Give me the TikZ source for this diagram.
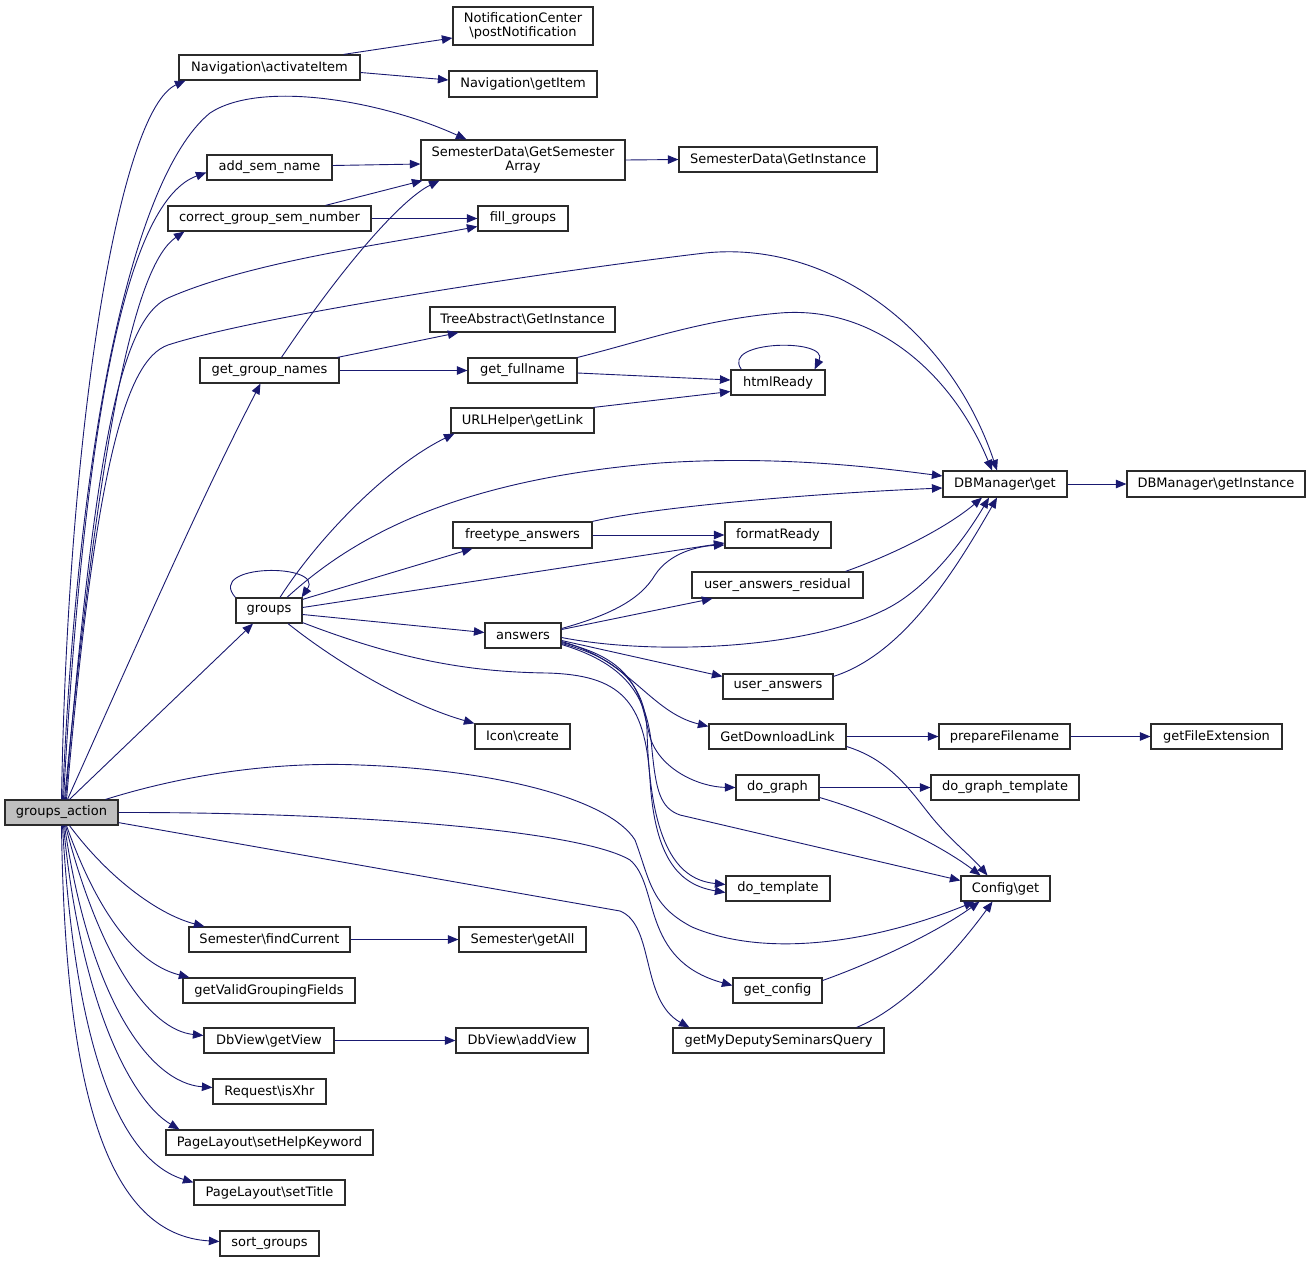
\documentclass[tikz,border=0pt]{standalone}
\usepackage{fontspec}
\setmainfont{DejaVu Sans}
\usetikzlibrary{arrows.meta}
\definecolor{edgec}{HTML}{191970}
\definecolor{nodeb}{HTML}{2B2B2B}
\definecolor{mainfill}{HTML}{BFBFBF}
\begin{document}
\begin{tikzpicture}[x=1pt,y=-1pt,
  nd/.style={draw=nodeb, line width=1.2pt, fill=white, inner sep=1pt, minimum height=25pt, align=center,
    font=\fontsize{13}{14}\selectfont},
  e/.style={draw=edgec, line width=0.9pt, -{Triangle[length=10.5pt,width=8.5pt]}},
]
\useasboundingbox (0,0) rectangle (1312,1263);
% nodes
\node[nd, fill=mainfill, minimum width=113pt] (ga) at (61.5,812.5) {groups\_action};
\node[nd, minimum width=181pt] (act) at (269.5,67.5) {Navigation\textbackslash activateItem};
\node[nd, minimum width=140pt, minimum height=38pt] (pn) at (523,26) {NotificationCenter\\\textbackslash postNotification};
\node[nd, minimum width=148pt, minimum height=26pt] (gi) at (523,84) {Navigation\textbackslash getItem};
\node[nd, minimum width=204pt, minimum height=40pt] (gsa) at (523,160) {SemesterData\textbackslash GetSemester\\Array};
\node[nd, minimum width=198pt] (sdgi) at (778,159.5) {SemesterData\textbackslash GetInstance};
\node[nd, minimum width=125pt] (add) at (269.5,167.5) {add\_sem\_name};
\node[nd, minimum width=203pt] (cgsn) at (269.5,218.5) {correct\_group\_sem\_number};
\node[nd, minimum width=90pt] (fill) at (523,218.5) {fill\_groups};
\node[nd, minimum width=185pt] (ta) at (522.5,319.5) {TreeAbstract\textbackslash GetInstance};
\node[nd, minimum width=139pt] (ggn) at (269.5,370.5) {get\_group\_names};
\node[nd, minimum width=109pt] (gf) at (522.5,370.5) {get\_fullname};
\node[nd, minimum width=94pt] (hr) at (778,382.5) {htmlReady};
\node[nd, minimum width=143pt] (urlh) at (522.5,420.5) {URLHelper\textbackslash getLink};
\node[nd, minimum width=124pt, minimum height=26pt] (dbg) at (1005,484) {DBManager\textbackslash get};
\node[nd, minimum width=178pt, minimum height=26pt] (dbgi) at (1216,484) {DBManager\textbackslash getInstance};
\node[nd, minimum width=139pt, minimum height=26pt] (ft) at (522.5,535) {freetype\_answers};
\node[nd, minimum width=106pt, minimum height=26pt] (fr) at (778,535) {formatReady};
\node[nd, minimum width=171pt, minimum height=26pt] (uar) at (777.5,585) {user\_answers\_residual};
\node[nd, minimum width=66pt] (grp) at (269,610.5) {groups};
\node[nd, minimum width=76pt] (ans) at (523,635.5) {answers};
\node[nd, minimum width=110pt] (ua) at (778,686.5) {user\_answers};
\node[nd, minimum width=95pt] (icon) at (522.5,736.5) {Icon\textbackslash create};
\node[nd, minimum width=137pt] (gdl) at (777.5,736.5) {GetDownloadLink};
\node[nd, minimum width=131pt] (pf) at (1004.5,736.5) {prepareFilename};
\node[nd, minimum width=131pt] (gfe) at (1216.5,736.5) {getFileExtension};
\node[nd, minimum width=83pt] (dg) at (777.5,787.5) {do\_graph};
\node[nd, minimum width=148pt] (dgt) at (1005,787.5) {do\_graph\_template};
\node[nd, minimum width=104pt] (dt) at (778,888.5) {do\_template};
\node[nd, minimum width=89pt] (cfg) at (1005.5,888.5) {Config\textbackslash get};
\node[nd, minimum width=161pt] (sfc) at (269.5,939.5) {Semester\textbackslash findCurrent};
\node[nd, minimum width=127pt] (sga) at (522.5,939.5) {Semester\textbackslash getAll};
\node[nd, minimum width=172pt] (gvgf) at (269,990.5) {getValidGroupingFields};
\node[nd, minimum width=89pt] (gc) at (777.5,990.5) {get\_config};
\node[nd, minimum width=130pt] (gv) at (269,1040.5) {DbView\textbackslash getView};
\node[nd, minimum width=132pt] (av) at (522,1040.5) {DbView\textbackslash addView};
\node[nd, minimum width=211pt] (gmd) at (778.5,1040.5) {getMyDeputySeminarsQuery};
\node[nd, minimum width=113pt] (xhr) at (269.5,1091.5) {Request\textbackslash isXhr};
\node[nd, minimum width=207pt] (shk) at (269.5,1142.5) {PageLayout\textbackslash setHelpKeyword};
\node[nd, minimum width=151pt] (st) at (269.5,1192.5) {PageLayout\textbackslash setTitle};
\node[nd, minimum width=99pt] (sg) at (269.5,1243.5) {sort\_groups};
% edges from groups_action
\draw[e] (ga.north) .. controls (68,420) and (120,110) .. ([xshift=7pt]act.south west);
\draw[e] ([xshift=1pt]ga.north) .. controls (80,400) and (140,170) .. (210,113) .. controls (260,80) and (380,100) .. ([xshift=46pt]gsa.north west);
\draw[e] ([xshift=2pt]ga.north) .. controls (85,400) and (130,200) .. ([yshift=-5pt]add.west);
\draw[e] ([xshift=3pt]ga.north) .. controls (100,430) and (135,265) .. ([xshift=17pt]cgsn.south west);
\draw[e] ([xshift=4pt]ga.north) .. controls (95,450) and (120,320) .. (168,298) .. controls (250,262) and (380,245) .. ([yshift=-8pt]fill.west);
\draw[e] ([xshift=5pt]ga.north) .. controls (95,470) and (125,360) .. (168,345) .. controls (260,315) and (560,270) .. (705,253) .. controls (830,240) and (950,330) .. ([xshift=-8pt]dbg.north);
\draw[e] ([xshift=6pt]ga.north) .. controls (130,660) and (200,500) .. ([xshift=-9pt]ggn.south);
\draw[e] ([xshift=8pt]ga.north) -- ([xshift=-16pt]grp.south);
\draw[e] ([xshift=-13pt]ga.north east) .. controls (200,770) and (290,762) .. (360,765) .. controls (500,770) and (610,800) .. (635,840) .. controls (650,880) and (650,905) .. (692,927) .. controls (770,960) and (880,940) .. ([xshift=-31pt]cfg.south);
\draw[e] (ga.east) .. controls (350,812) and (580,830) .. (630,860) .. controls (660,885) and (640,960) .. ([yshift=5pt]gc.west);
\draw[e] ([yshift=3pt]ga.south east) -- (620,911) .. controls (655,925) and (640,1000) .. ([xshift=17pt]gmd.north west);
\draw[e] ([xshift=8pt]ga.south) .. controls (110,880) and (160,915) .. ([xshift=16pt]sfc.north west);
\draw[e] ([xshift=5pt]ga.south) .. controls (100,920) and (140,965) .. ([xshift=7pt]gvgf.north west);
\draw[e] ([xshift=4pt]ga.south) .. controls (100,960) and (150,1030) .. ([yshift=5pt]gv.west);
\draw[e] ([xshift=3pt]ga.south) .. controls (90,1000) and (150,1083) .. ([yshift=4pt]xhr.west);
\draw[e] ([xshift=2pt]ga.south) .. controls (80,1000) and (130,1100) .. ([xshift=14pt]shk.north west);
\draw[e] ([xshift=1pt]ga.south) .. controls (75,1050) and (120,1160) .. ([yshift=-3pt]st.north west);
\draw[e] (ga.south) .. controls (65,1100) and (110,1235) .. ([yshift=2pt]sg.west);
% upper part
\draw[e] ([xshift=-17pt]act.north east) -- ([yshift=-12pt]pn.west);
\draw[e] ([yshift=-5pt]act.east) -- ([yshift=4pt]gi.west);
\draw[e] ([yshift=2pt]add.east) -- ([yshift=-4pt]gsa.west);
\draw[e] ([xshift=56pt]cgsn.north) -- ([xshift=2pt]gsa.south west);
\draw[e] (cgsn.east) -- (fill.west);
\draw[e] (gsa.east) -- (sdgi.west);
\draw[e] ([xshift=12pt]ggn.north) .. controls (340,270) and (400,200) .. ([xshift=19pt]gsa.south west);
\draw[e] ([xshift=68pt]ggn.north) -- ([xshift=29pt]ta.south west);
\draw[e] (ggn.east) -- (gf.west);
\draw[e] (gf.north east) .. controls (640,342) and (700,320) .. (780,313) .. controls (880,305) and (955,380) .. ([xshift=-13pt]dbg.north);
\draw[e] ([yshift=-2.5pt]gf.east) -- ([yshift=2.5pt]hr.west);
\draw[e] ([xshift=-1pt]urlh.north east) -- ([yshift=-9pt]hr.west);
\draw[e] ([xshift=11pt]hr.north west) .. controls (720,340) and (830,338) .. ([xshift=-11pt]hr.north east);
\draw[e] (dbg.east) -- (dbgi.west);
% groups
\draw[e] (grp.north west) .. controls (205,563) and (325,563) .. ([xshift=-1pt]grp.north east);
\draw[e] ([xshift=11pt]grp.north) .. controls (320,535) and (390,465) .. ([xshift=4pt]urlh.south west);
\draw[e] ([xshift=18pt]grp.north) .. controls (350,540) and (450,480) .. (660,463) .. controls (780,455) and (880,468) .. ([yshift=8pt]dbg.west);
\draw[e] ([yshift=-2pt]grp.north east) -- ([xshift=20pt]ft.south west);
\draw[e] ([yshift=3pt]grp.east) -- ([yshift=-8pt]fr.west);
\draw[e] ([yshift=-4pt]grp.east) -- ([yshift=3pt]ans.west);
\draw[e] ([xshift=19pt]grp.south) .. controls (340,665) and (410,705) .. (icon.north west);
\draw[e] ([yshift=1pt]grp.south east) .. controls (400,660) and (470,672) .. (547,673) .. controls (620,675) and (645,700) .. (650,780) .. controls (655,860) and (680,885) .. ([yshift=-4pt]dt.west);
% freetype
\draw[e] (ft.north east) .. controls (650,508) and (800,494) .. ([yshift=-4pt]dbg.west);
\draw[e] (ft.east) -- (fr.west);
% answers
\draw[e] ([yshift=7pt]ans.east) .. controls (610,615) and (640,600) .. (655,575) .. controls (670,552) and (700,546) .. ([yshift=-10pt]fr.west);
\draw[e] ([yshift=6pt]ans.east) -- ([xshift=21pt]uar.south west);
\draw[e] ([yshift=-2pt]ans.east) .. controls (650,655) and (800,650) .. (880,612) .. controls (930,590) and (970,530) .. ([xshift=-16pt]dbg.south);
\draw[e] ([yshift=-5pt]ans.east) -- ([yshift=-3pt]ua.north west);
\draw[e] ([yshift=-6pt]ans.east) .. controls (630,660) and (650,712) .. ([yshift=-3pt]gdl.north west);
\draw[e] ([yshift=-7pt]ans.east) .. controls (640,660) and (640,700) .. (650,737) .. controls (660,770) and (700,787) .. (dg.west);
\draw[e] ([yshift=-8pt]ans.east) .. controls (625,660) and (645,690) .. (647,730) .. controls (650,850) and (680,880) .. ([yshift=4pt]dt.west);
\draw[e] ([yshift=-9pt]ans.east) .. controls (630,665) and (648,700) .. (652,750) .. controls (656,790) and (660,808) .. (680,815) -- ([yshift=8pt]cfg.west);
\draw[e] ([xshift=-18pt]uar.north east) .. controls (900,552) and (950,525) .. ([xshift=-23pt]dbg.south);
\draw[e] ([yshift=-3pt]ua.north east) .. controls (900,655) and (950,580) .. ([xshift=-8pt]dbg.south);
% lower right
\draw[e] (gdl.east) -- (pf.west);
\draw[e] ([yshift=-10pt]gdl.east) .. controls (890,760) and (910,790) .. (930,815) .. controls (950,840) and (970,855) .. ([xshift=-18pt]cfg.north);
\draw[e] (pf.east) -- (gfe.west);
\draw[e] (dg.east) -- (dgt.west);
\draw[e] ([yshift=-10pt]dg.east) .. controls (880,815) and (940,845) .. ([xshift=-25pt]cfg.north);
\draw[e] ([yshift=10pt]gc.east) .. controls (880,960) and (940,930) .. ([xshift=-26pt]cfg.south);
\draw[e] ([xshift=-28pt]gmd.north east) .. controls (900,1010) and (950,960) .. ([xshift=-13pt]cfg.south);
\draw[e] (sfc.east) -- (sga.west);
\draw[e] (gv.east) -- (av.west);
\end{tikzpicture}
\end{document}
